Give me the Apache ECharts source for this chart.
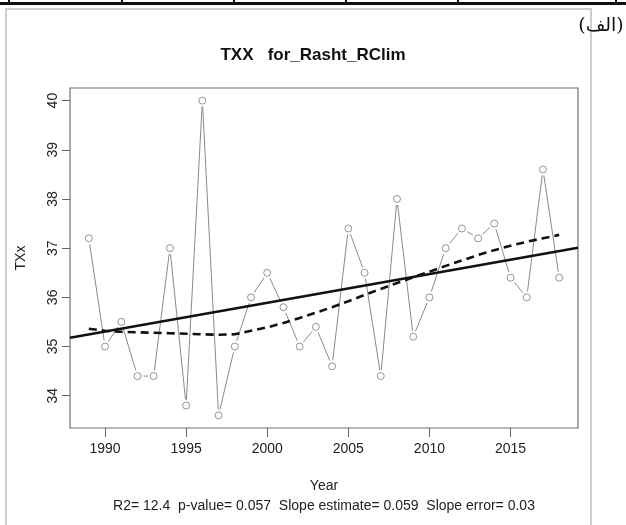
<!DOCTYPE html>
<html>
<head>
<meta charset="utf-8">
<script src="https://cdn.jsdelivr.net/npm/echarts@6/dist/echarts.min.js"></script>
<style>
html,body{margin:0;padding:0;background:#fff;}
#c{width:626px;height:525px;}
</style>
</head>
<body>
<div id="c"></div>
<script>
const years = [1989,1990,1991,1992,1993,1994,1995,1996,1997,1998,1999,2000,2001,2002,2003,2004,2005,2006,2007,2008,2009,2010,2011,2012,2013,2014,2015,2016,2017,2018];
const txx = [37.2,35.0,35.5,34.4,34.4,37.0,33.8,40.0,33.6,35.0,36.0,36.5,35.8,35.0,35.4,34.6,37.4,36.5,34.4,38.0,35.2,36.0,37.0,37.4,37.2,37.5,36.4,36.0,38.6,36.4];
const loess = [35.36,35.32,35.30,35.29,35.28,35.27,35.26,35.25,35.24,35.25,35.32,35.39,35.48,35.58,35.69,35.80,35.92,36.05,36.17,36.29,36.41,36.52,36.64,36.75,36.86,36.96,37.05,37.13,37.20,37.27];
const trendX = [1987.84, 2019.16];
const trendY = [35.18, 37.01];
const xTicks = [1990,1995,2000,2005,2010,2015];
const yTicks = [34,35,36,37,38,39,40];
const xRange = [1987.84, 2019.16];
const yRange = [33.344, 40.256];
const titleText = 'TXX   for_Rasht_RClim';
const xName = 'Year';
const yName = 'TXx';
const statsText = 'R2= 12.4  p-value= 0.057  Slope estimate= 0.059  Slope error= 0.03';
const panelLabel = '(الف)';

const pts = years.map((y,i)=>[y, txx[i]]);
const segs = [];
for (let i=0;i<years.length-1;i++) segs.push([years[i], txx[i], years[i+1], txx[i+1]]);
const loessData = years.map((y,i)=>[y, loess[i]]);
const trendData = trendX.map((x,i)=>[x, trendY[i]]);

const FONT = '"Liberation Sans", Arial, sans-serif';
const chart = echarts.init(document.getElementById('c'), null, {renderer:'canvas'});
const option = {
  backgroundColor:'#fff',
  animation:false,
  title:{
    text:titleText, left:'center', top:42,
    textStyle:{fontFamily:FONT, fontWeight:'bold', fontSize:17, color:'#111'}
  },
  grid:{left:70, right:48, top:88, bottom:97, show:true, borderColor:'#707070', borderWidth:1.2, backgroundColor:'transparent'},
  xAxis:{
    type:'value', min:xRange[0], max:xRange[1],
    axisLine:{show:false},
    splitLine:{show:false},
    axisTick:{show:true, customValues:xTicks, length:9, lineStyle:{color:'#666', width:1}},
    axisLabel:{customValues:xTicks, margin:14, fontFamily:FONT, fontSize:14, color:'#222', formatter:function(v){return String(v);}},
    name:xName, nameLocation:'middle', nameGap:51,
    nameTextStyle:{fontFamily:FONT, fontSize:14, color:'#222'}
  },
  yAxis:{
    type:'value', min:yRange[0], max:yRange[1],
    axisLine:{show:false},
    splitLine:{show:false},
    axisTick:{show:true, customValues:yTicks, length:8, lineStyle:{color:'#666', width:1}},
    axisLabel:{customValues:yTicks, rotate:90, margin:10, fontFamily:FONT, fontSize:14, color:'#222', formatter:function(v){return String(v);}},
    name:yName, nameLocation:'middle', nameGap:42, nameRotate:90,
    nameTextStyle:{fontFamily:FONT, fontSize:14, color:'#222'}
  },
  graphic:[
    {type:'rect', shape:{x:6, y:9, width:585, height:530}, style:{fill:'none', stroke:'#cfcfcf', lineWidth:2}, silent:true},
    {type:'rect', shape:{x:0, y:2, width:626, height:3}, style:{fill:'#111'}, silent:true},
    {type:'rect', shape:{x:8, y:0, width:2, height:5}, style:{fill:'#111'}, silent:true},
    {type:'rect', shape:{x:121, y:0, width:2, height:5}, style:{fill:'#111'}, silent:true},
    {type:'rect', shape:{x:233, y:0, width:2, height:5}, style:{fill:'#111'}, silent:true},
    {type:'rect', shape:{x:345, y:0, width:2, height:5}, style:{fill:'#111'}, silent:true},
    {type:'rect', shape:{x:457, y:0, width:2, height:5}, style:{fill:'#111'}, silent:true},
    {type:'rect', shape:{x:615, y:0, width:2, height:5}, style:{fill:'#111'}, silent:true},
    {type:'text', x:601, y:26, style:{text:panelLabel, font:'19px "DejaVu Serif", "DejaVu Sans", serif', fill:'#111', align:'center', verticalAlign:'middle'}, silent:true},
    {type:'text', x:324, y:506, style:{text:statsText, font:'14px "Liberation Sans", Arial, sans-serif', fill:'#222', align:'center', verticalAlign:'middle'}, silent:true}
  ],
  series:[
    {
      type:'custom', name:'segments', data:segs, z:2,
      renderItem:function(params, api){
        const p1 = api.coord([api.value(0), api.value(1)]);
        const p2 = api.coord([api.value(2), api.value(3)]);
        const dx = p2[0]-p1[0], dy = p2[1]-p1[1];
        const L = Math.sqrt(dx*dx+dy*dy);
        const g = 6;
        if (L <= 2*g) return null;
        const ux = dx/L, uy = dy/L;
        return {type:'line', shape:{x1:p1[0]+ux*g, y1:p1[1]+uy*g, x2:p2[0]-ux*g, y2:p2[1]-uy*g},
          style:{stroke:'#8a8a8a', lineWidth:1}};
      }
    },
    {
      type:'scatter', name:'TXx', data:pts, symbol:'circle', symbolSize:7, z:3,
      itemStyle:{color:'rgba(255,255,255,0)', borderColor:'#7a7a7a', borderWidth:1}
    },
    {
      type:'line', name:'trend', data:trendData, showSymbol:false, symbol:'none', z:4,
      lineStyle:{color:'#111', width:2.6}
    },
    {
      type:'line', name:'loess', data:loessData, showSymbol:false, symbol:'none', smooth:false, z:5,
      lineStyle:{color:'#111', width:2.6, type:[8,5]}
    }
  ]
};
chart.setOption(option);
</script>
</body>
</html>
